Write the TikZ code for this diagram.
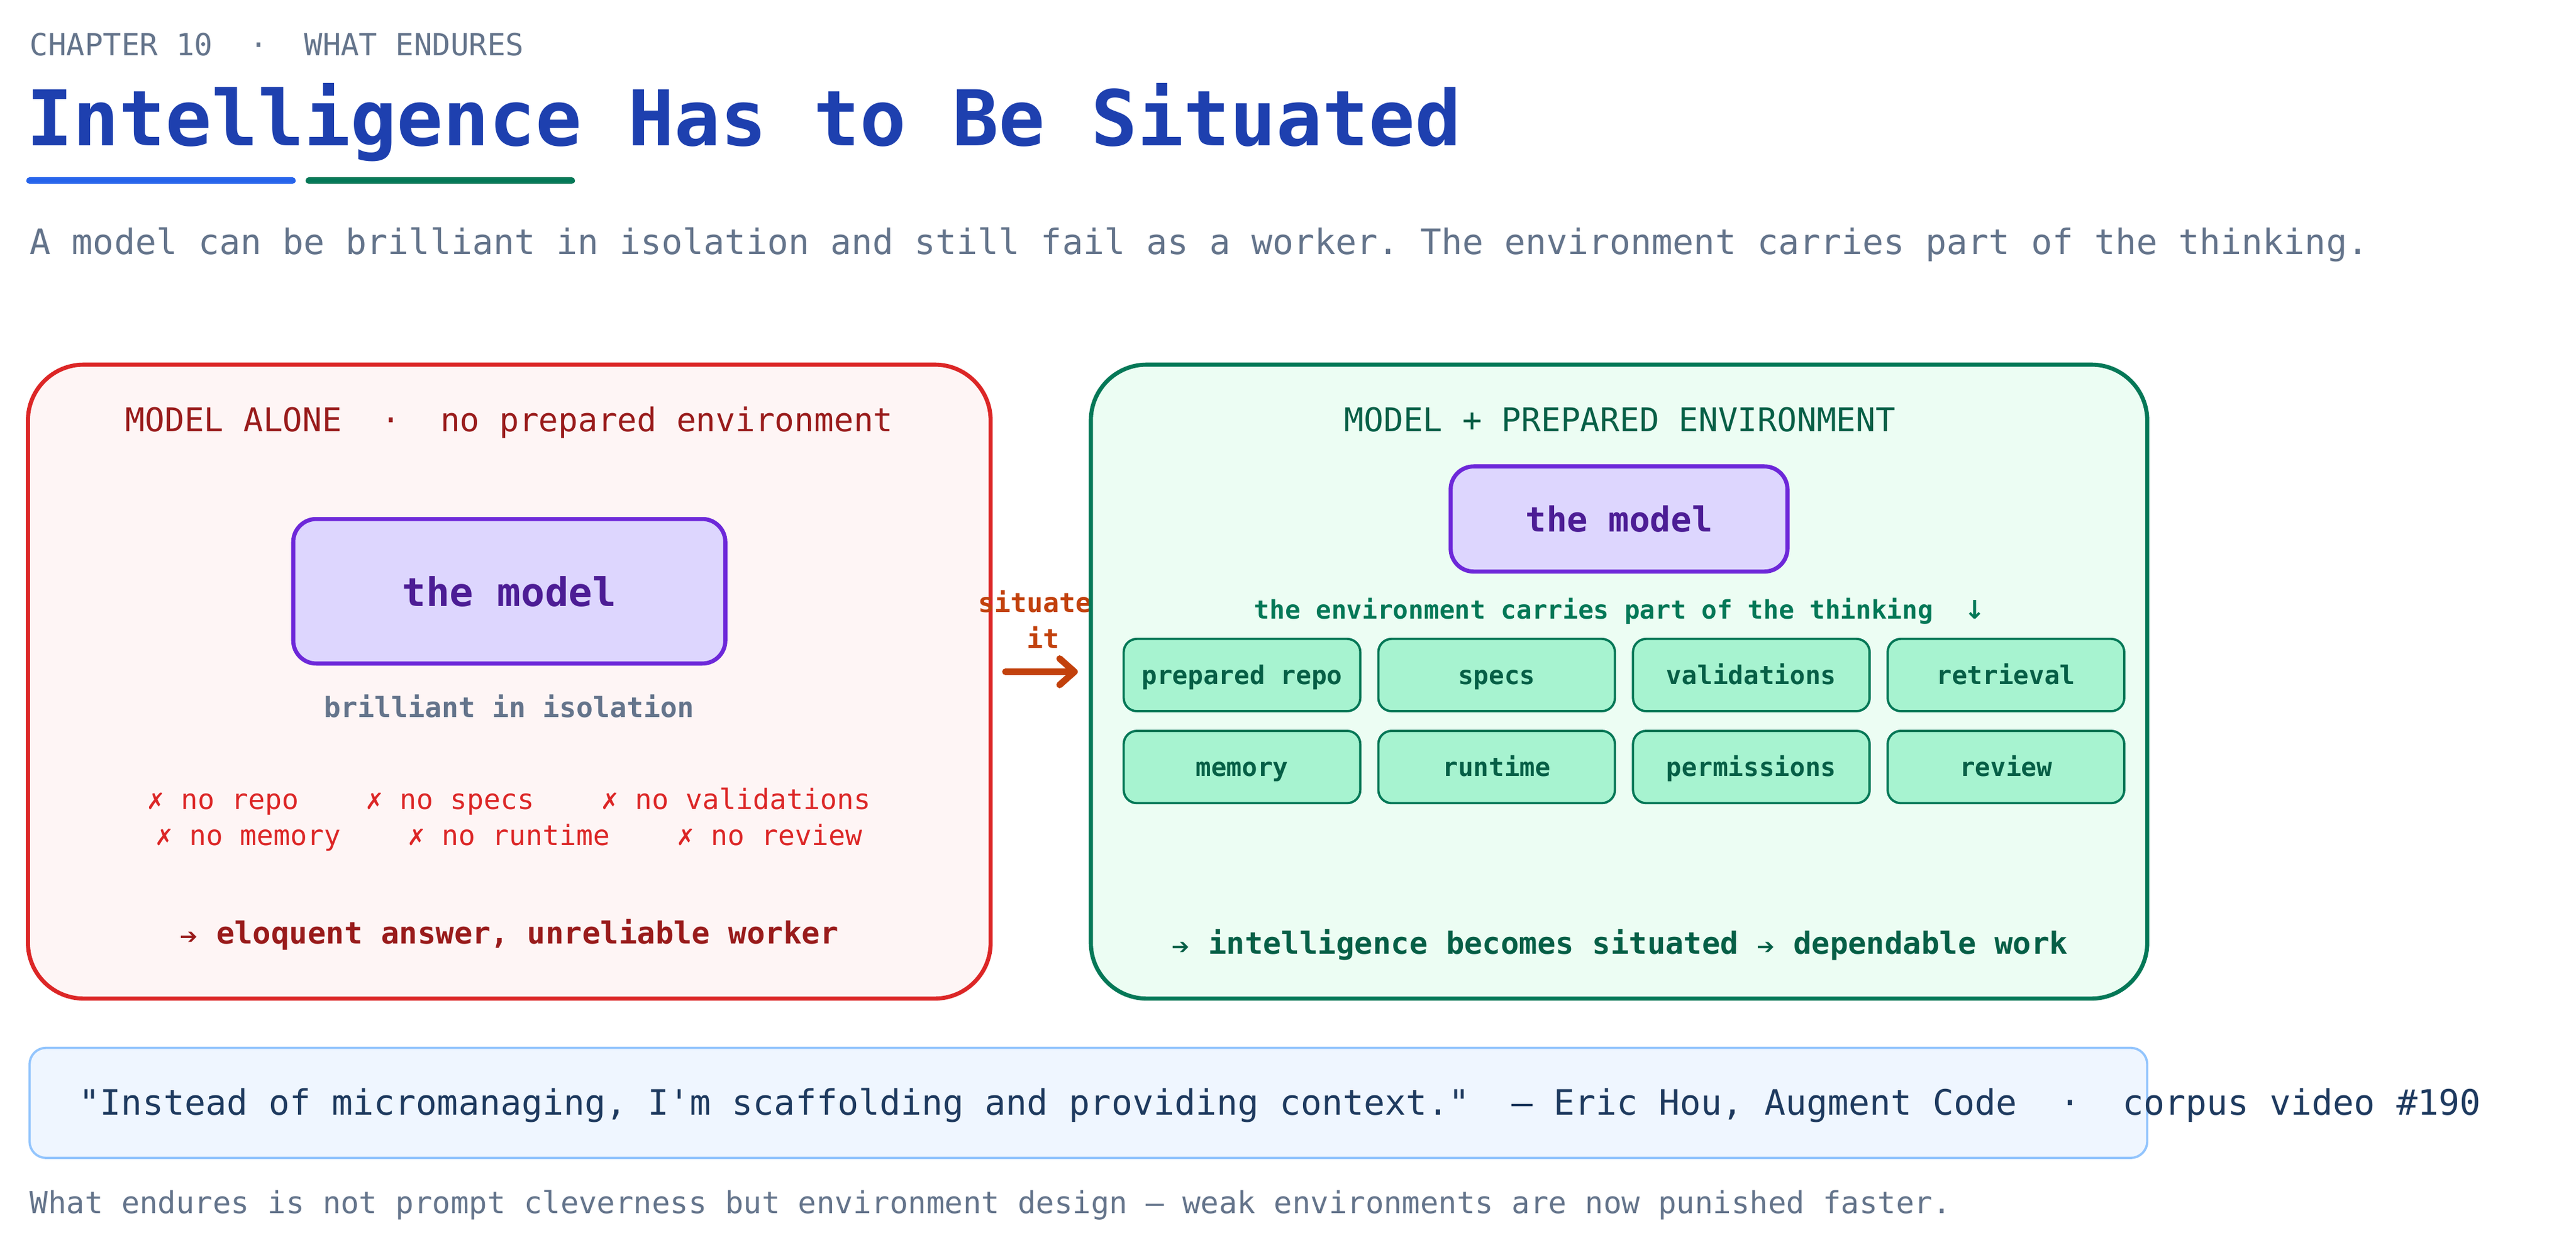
\documentclass[tikz,border=0pt]{standalone}
\usepackage{fontspec}
\setmonofont{DejaVu Sans Mono}
\renewcommand{\familydefault}{\ttdefault}
\newfontfamily\symf{DejaVu Sans}
\usetikzlibrary{arrows.meta}
\frenchspacing
\definecolor{ink}{HTML}{64748B}
\definecolor{navy}{HTML}{1E40AF}
\definecolor{bluebar}{HTML}{2563EB}
\definecolor{grn}{HTML}{047857}
\definecolor{dkgrn}{HTML}{065F46}
\definecolor{rd}{HTML}{DC2626}
\definecolor{dkrd}{HTML}{991B1B}
\definecolor{vio}{HTML}{6D28D9}
\definecolor{lvio}{HTML}{DDD6FE}
\definecolor{dkvio}{HTML}{4C1D95}
\definecolor{orng}{HTML}{C2410C}
\newcommand{\xm}{✗}
\newcommand{\ar}{{\symf\fontsize{13}{13}\selectfont ➔}}
\newcommand{\gap}{\ \ \ \ }
\tikzset{
  txt/.style={inner sep=0pt,anchor=mid},
  panel/.style={rounded corners=34pt,line width=2.5pt},
  modelbox/.style={draw=vio,fill=lvio,line width=2.5pt,
    rounded corners=14pt,text=dkvio,inner sep=0pt,text depth=0pt},
  tile/.style={draw=grn,fill={rgb,255:red,167;green,243;blue,208},
    line width=1.4pt,rounded corners=8pt,minimum width=144pt,minimum height=44pt,
    inner sep=0pt,text=dkgrn,text height=11.5pt,text depth=0pt,
    font=\fontsize{15.6}{18}\selectfont\bfseries}
}
\begin{document}
\begin{tikzpicture}[x=1pt,y=-1pt]
  \useasboundingbox[fill=white] (0,0) rectangle (1568,757.7);
  % heading
  \node (chap) [txt,anchor=mid west,text=ink,font=\fontsize{18.5}{22}\selectfont]
    at (18,31) {CHAPTER 10\ \ ·\ \ WHAT ENDURES};
  \node (title) [txt,anchor=mid west,text=navy,font=\fontsize{46.8}{54}\selectfont\bfseries]
    at (16,86) {Intelligence Has to Be Situated};
  \draw[bluebar,line width=4pt,line cap=round] (18,110) -- (178,110);
  \draw[grn,line width=4pt,line cap=round] (188,110) -- (348,110);
  \node (sub) [txt,anchor=mid west,text=ink,font=\fontsize{21.3}{26}\selectfont]
    at (18,152) {A model can be brilliant in isolation and still fail as a worker. The environment carries part of the thinking.};

  % left panel
  \draw[panel,draw=rd,fill={rgb,255:red,254;green,245;blue,245}] (17,222) rectangle (603,608);
  \node (ltitle) [txt,text=dkrd,font=\fontsize{19.9}{24}\selectfont]
    at (310,260) {MODEL ALONE\ \ ·\ \ no prepared environment};
  \node (lmodel) [modelbox,minimum width=263pt,minimum height=88pt,text height=18pt,
    font=\fontsize{24}{28}\selectfont\bfseries] at (310,360) {the model};
  \node (lcap) [txt,text=ink,font=\fontsize{17}{20}\selectfont\bfseries]
    at (310,434) {brilliant in isolation};
  \node (lno1) [txt,text=rd,font=\fontsize{17}{20}\selectfont]
    at (310,490) {\xm{} no repo\gap\xm{} no specs\gap\xm{} no validations};
  \node (lno2) [txt,text=rd,font=\fontsize{17}{20}\selectfont]
    at (310,512) {\xm{} no memory\gap\xm{} no runtime\gap\xm{} no review};
  \node (lres) [txt,text=dkrd,font=\fontsize{18.5}{22}\selectfont\bfseries]
    at (310,572) {\ar{} eloquent answer, unreliable worker};

  % bridge
  \node (sit1) [txt,text=orng,font=\fontsize{16.4}{20}\selectfont\bfseries] at (635,370) {situated};
  \node (sit2) [txt,text=orng,font=\fontsize{16.4}{20}\selectfont\bfseries] at (635,392) {it};
  \coordinate (bs) at (612,409);
  \coordinate (be) at (656,409);
  \draw[orng,line width=4pt,line cap=round,-{Straight Barb[length=9pt,width=16pt,round]}] (bs) -- (be);

  % right panel
  \draw[panel,draw=grn,fill={rgb,255:red,236;green,253;blue,243}] (664,222) rectangle (1307,608);
  \node (rtitle) [txt,text=dkgrn,font=\fontsize{19.9}{24}\selectfont]
    at (986,260) {MODEL + PREPARED ENVIRONMENT};
  \node (rmodel) [modelbox,minimum width=205pt,minimum height=64pt,text height=15.5pt,
    font=\fontsize{21}{25}\selectfont\bfseries] at (985.5,316) {the model};
  \node (rcap) [txt,text=grn,font=\fontsize{15.6}{19}\selectfont\bfseries]
    at (986,374) {the environment carries part of the thinking\ \ {\symf ↓}};
  \foreach \lbl [count=\i from 0] in {prepared repo,specs,validations,retrieval,
      memory,runtime,permissions,review} {
    \pgfmathtruncatemacro{\col}{mod(\i,4)}
    \pgfmathtruncatemacro{\row}{\i/4}
    \node (t\i) [tile] at (756+155*\col,411+56*\row) {\lbl};
  }
  \node (rres) [txt,text=dkgrn,font=\fontsize{18.5}{22}\selectfont\bfseries]
    at (986,578) {\ar{} intelligence becomes situated \ar{} dependable work};

  % quote
  \draw[draw={rgb,255:red,147;green,197;blue,253},fill={rgb,255:red,239;green,246;blue,255},
    line width=1.4pt,rounded corners=10pt] (18,638) rectangle (1307,705);
  \node (quote) [txt,anchor=mid west,text={rgb,255:red,30;green,58;blue,95},
    font=\fontsize{21.3}{26}\selectfont] at (48,676)
    {"Instead of micromanaging, I'm scaffolding and providing context."\ \ — Eric Hou, Augment Code\ \ ·\ \ corpus video \#190};
  \node (foot) [txt,anchor=mid west,text=ink,font=\fontsize{18.5}{22}\selectfont]
    at (18,736) {What endures is not prompt cleverness but environment design — weak environments are now punished faster.};
\end{tikzpicture}
\end{document}
